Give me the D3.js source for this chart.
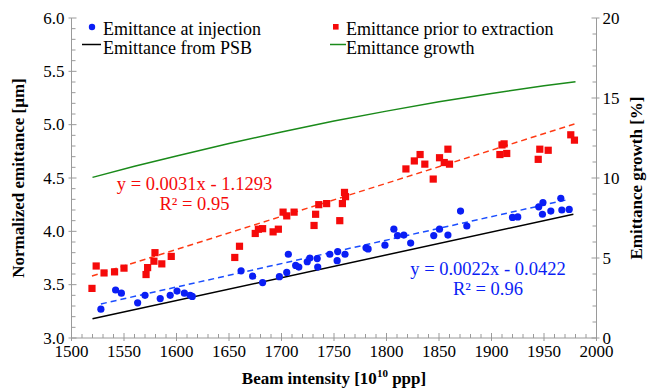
<!DOCTYPE html>
<html>
<head>
<meta charset="utf-8">
<script src="https://cdn.jsdelivr.net/npm/d3@7"></script>
<style>
  html, body { margin: 0; padding: 0; background: #fff; }
  svg { display: block; font-family: "Liberation Serif", "Times New Roman", serif; }
</style>
</head>
<body>
<svg id="chart" width="653" height="388"></svg>
<script>
// Emittance measured at injection (beam intensity in 1e10 ppp, emittance in um)
const injX = [1528, 1542, 1547.5, 1563, 1570, 1584.5, 1594, 1600.5, 1607.5, 1613, 1615,
  1661.5, 1672.5, 1682, 1698, 1705, 1706.5, 1713.5, 1716.5, 1724.5, 1727, 1734, 1734.5,
  1746, 1753.5, 1753, 1760.5, 1780.5, 1782.5, 1798.5, 1807, 1810.5, 1816.5, 1823,
  1845, 1850.5, 1858.5, 1870.5, 1876.5, 1920, 1925, 1945, 1949, 1948.5, 1956.5, 1966, 1967, 1974];
const injY = [3.27, 3.45, 3.42, 3.33, 3.40, 3.37, 3.40, 3.44, 3.42, 3.40, 3.39,
  3.63, 3.58, 3.52, 3.575, 3.615, 3.785, 3.68, 3.665, 3.715, 3.75, 3.745, 3.665,
  3.785, 3.81, 3.725, 3.785, 3.845, 3.835, 3.87, 4.02, 3.96, 3.965, 3.89,
  3.96, 4.02, 3.965, 4.19, 4.05, 4.13, 4.135, 4.23, 4.27, 4.16, 4.19, 4.31, 4.20, 4.205];

// Emittance measured prior to extraction
const extX = [1519.5, 1523.5, 1531, 1541, 1550, 1571, 1572.5, 1578.5, 1579.5, 1586, 1595,
  1655.5, 1660, 1675, 1678, 1682, 1692, 1697, 1701.5, 1705, 1712, 1731, 1732.5, 1735.5,
  1743, 1755.5, 1758, 1760, 1761, 1818.5, 1826.5, 1832, 1836.5, 1844.5, 1850.5, 1855,
  1858.5, 1860, 1908, 1910, 1912, 1914.5, 1944.5, 1946, 1954, 1975.5, 1979];
const extY = [3.465, 3.675, 3.61, 3.62, 3.655, 3.595, 3.66, 3.72, 3.80, 3.695, 3.765,
  3.755, 3.86, 3.98, 4.02, 4.025, 3.995, 4.02, 4.18, 4.145, 4.18, 4.055, 4.16, 4.25,
  4.26, 4.10, 4.26, 4.365, 4.325, 4.585, 4.66, 4.72, 4.63, 4.49, 4.69, 4.645,
  4.77, 4.63, 4.72, 4.81, 4.82, 4.73, 4.675, 4.77, 4.76, 4.905, 4.855];

// Linear fits as printed on the chart
const fitExt = { slope: 0.0031, intercept: -1.1293, r2: "0.95" };
const fitInj = { slope: 0.0022, intercept: -0.0422, r2: "0.96" };

// Emittance delivered by the PSB
const psbX = [1520, 1978];
const psbY = [3.18, 4.16];

// Emittance growth [%] (right axis)
const growthX = [1520, 1560, 1600, 1650, 1700, 1750, 1800, 1850, 1900, 1950, 1980];
const growthY = [10.04, 10.73, 11.38, 12.16, 12.88, 13.56, 14.18, 14.76, 15.28, 15.76, 16.02];

// Axis ticks
const xTicks = [1500, 1550, 1600, 1650, 1700, 1750, 1800, 1850, 1900, 1950, 2000];
const yTicks = [3.0, 3.5, 4.0, 4.5, 5.0, 5.5, 6.0];
const y2Ticks = [0, 5, 10, 15, 20];

const svg = d3.select("#chart");
const axisColor = "#9a9a9a";

const x = d3.scaleLinear().domain([1500, 2000]).range([71.5, 596.5]);
const y = d3.scaleLinear().domain([3, 6]).range([338, 18]);
const y2 = d3.scaleLinear().domain([0, 20]).range([338, 18]);

const gAxes = svg.append("g");

// axis lines
gAxes.append("line").attr("x1", x(1500)).attr("x2", x(1500)).attr("y1", y(3)).attr("y2", y(6));
gAxes.append("line").attr("x1", x(2000)).attr("x2", x(2000)).attr("y1", y(3)).attr("y2", y(6));
gAxes.append("line").attr("x1", x(1500)).attr("x2", x(2000)).attr("y1", y(3)).attr("y2", y(3));

// major and minor ticks
d3.range(1500, 2001, 10).forEach(v => {
  const major = v % 50 === 0;
  gAxes.append("line").attr("x1", x(v)).attr("x2", x(v))
    .attr("y1", y(3) + (major ? 3 : 0)).attr("y2", y(3) - (major ? 5 : 4));
});
d3.range(30, 61, 1).forEach(k => {
  const v = k / 10;
  const major = k % 5 === 0;
  gAxes.append("line").attr("x1", x(1500) - (major ? 3 : 0)).attr("x2", x(1500) + (major ? 5 : 4))
    .attr("y1", y(v)).attr("y2", y(v));
});
d3.range(0, 21, 1).forEach(v => {
  const major = v % 5 === 0;
  gAxes.append("line").attr("x1", x(2000) + (major ? 3 : 0)).attr("x2", x(2000) - (major ? 5 : 4))
    .attr("y1", y2(v)).attr("y2", y2(v));
});
gAxes.selectAll("line").attr("stroke", axisColor).attr("stroke-width", 1);

// tick labels
const tickFont = 17;
svg.append("g").selectAll("text").data(xTicks).join("text")
  .attr("x", d => x(d)).attr("y", 357)
  .attr("text-anchor", "middle").attr("font-size", tickFont).text(d => d);
svg.append("g").selectAll("text").data(yTicks).join("text")
  .attr("x", x(1500) - 7).attr("y", d => y(d) + 5.5)
  .attr("text-anchor", "end").attr("font-size", tickFont).text(d => d.toFixed(1));
svg.append("g").selectAll("text").data(y2Ticks).join("text")
  .attr("x", x(2000) + 6).attr("y", d => y2(d) + 6)
  .attr("text-anchor", "start").attr("font-size", tickFont).text(d => d);

// axis titles
svg.append("text").attr("x", x(1750)).attr("y", 384).attr("text-anchor", "middle")
  .attr("font-size", 17).attr("font-weight", "bold")
  .call(t => {
    t.append("tspan").text("Beam intensity [10");
    t.append("tspan").attr("font-size", 11).attr("dy", -7).text("10");
    t.append("tspan").attr("dy", 7).text(" ppp]");
  });
svg.append("text").attr("transform", `translate(24,${y(4.5)}) rotate(-90)`)
  .attr("text-anchor", "middle").attr("font-size", 17).attr("font-weight", "bold")
  .text("Normalized emittance [µm]");
svg.append("text").attr("transform", `translate(642,${y(4.5)}) rotate(-90)`)
  .attr("text-anchor", "middle").attr("font-size", 17).attr("font-weight", "bold")
  .text("Emittance growth [%]");

const line = d3.line();

// growth curve
svg.append("path")
  .attr("d", line(growthX.map((v, i) => [x(v), y2(growthY[i])])))
  .attr("fill", "none").attr("stroke", "#1a8a1a").attr("stroke-width", 1.5);

// PSB line
svg.append("path")
  .attr("d", line(psbX.map((v, i) => [x(v), y(psbY[i])])))
  .attr("fill", "none").attr("stroke", "#000").attr("stroke-width", 1.5);

// fit lines over each data range
function fitPath(xs, fit, color) {
  const [a, b] = d3.extent(xs);
  svg.append("path")
    .attr("d", line([a, b].map(v => [x(v), y(fit.slope * v + fit.intercept)])))
    .attr("fill", "none").attr("stroke", color).attr("stroke-width", 1.5)
    .attr("stroke-dasharray", "6,4");
}
fitPath(extX, fitExt, "#ff3a14");
fitPath(injX, fitInj, "#1a4dff");

// markers
svg.append("g").selectAll("circle").data(injX).join("circle")
  .attr("cx", d => x(d)).attr("cy", (d, i) => y(injY[i])).attr("r", 3.6)
  .attr("fill", "#0a1ef5");
svg.append("g").selectAll("rect").data(extX).join("rect")
  .attr("x", d => x(d) - 3.6).attr("y", (d, i) => y(extY[i]) - 3.6)
  .attr("width", 7.2).attr("height", 7.2).attr("fill", "#f50a0a");

// fit equations
const eqFont = 18.5;
function equation(cx, by, fit, color) {
  svg.append("text").attr("x", cx).attr("y", by).attr("text-anchor", "middle")
    .attr("font-size", eqFont).attr("fill", color)
    .text(`y = ${fit.slope}x - ${Math.abs(fit.intercept)}`);
  svg.append("text").attr("x", cx).attr("y", by + 20).attr("text-anchor", "middle")
    .attr("font-size", eqFont).attr("fill", color)
    .text(`R² = ${fit.r2}`);
}
equation(194.5, 190, fitExt, "#f50a0a");
equation(488, 275, fitInj, "#0a1ef5");

// legend
const leg = svg.append("g").attr("font-size", 18);
leg.append("circle").attr("cx", 92).attr("cy", 27).attr("r", 3.2).attr("fill", "#0a1ef5");
leg.append("text").attr("x", 103).attr("y", 35).text("Emittance at injection");
leg.append("line").attr("x1", 82).attr("x2", 101).attr("y1", 44.5).attr("y2", 44.5)
  .attr("stroke", "#000").attr("stroke-width", 1.5);
leg.append("text").attr("x", 103).attr("y", 54).text("Emittance from PSB");
leg.append("rect").attr("x", 333).attr("y", 24).attr("width", 5.6).attr("height", 5.6).attr("fill", "#f50a0a");
leg.append("text").attr("x", 346).attr("y", 35).text("Emittance prior to extraction");
leg.append("line").attr("x1", 330).attr("x2", 346).attr("y1", 44.5).attr("y2", 44.5)
  .attr("stroke", "#1a8a1a").attr("stroke-width", 1.5);
leg.append("text").attr("x", 346).attr("y", 54).text("Emittance growth");
</script>
</body>
</html>
